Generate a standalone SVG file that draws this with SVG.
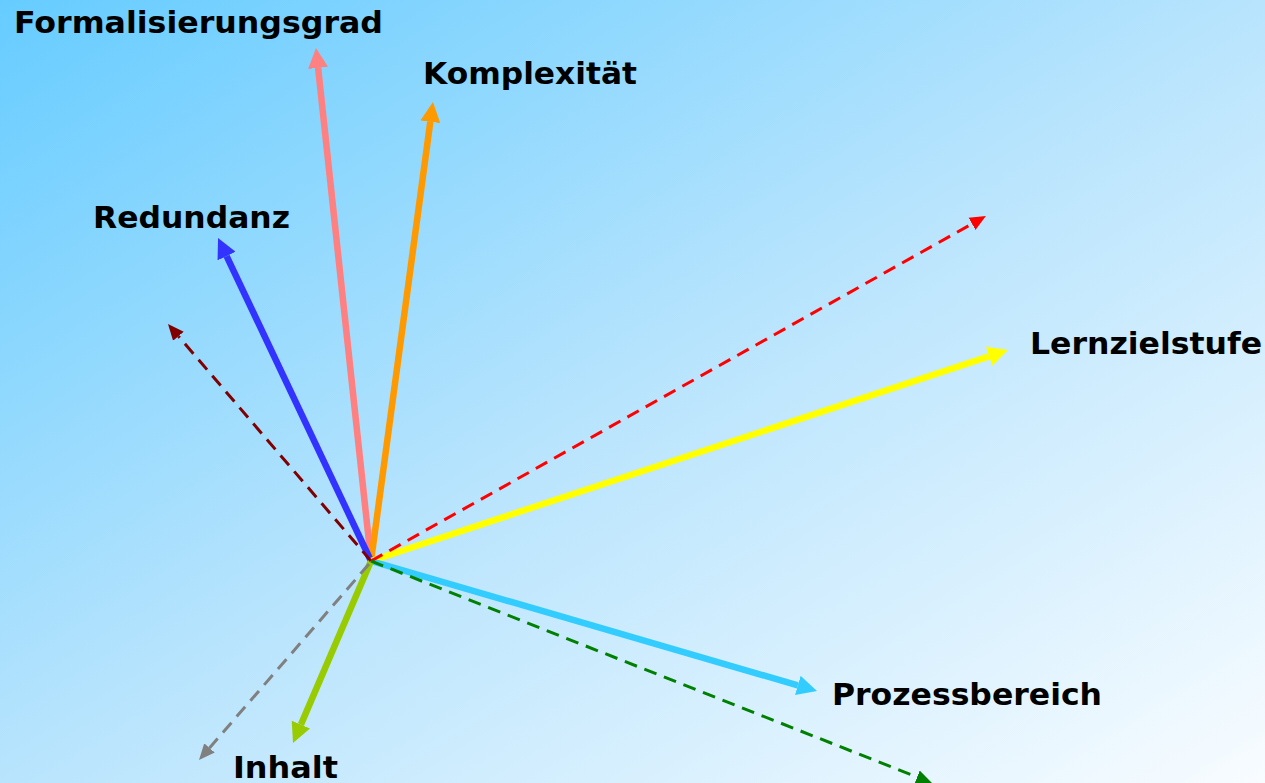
<svg xmlns="http://www.w3.org/2000/svg" width="1265" height="783" viewBox="0 0 1265 783">
<defs>
<linearGradient id="bg" x1="0" y1="0" x2="1" y2="1">
<stop offset="0" stop-color="#66CCFF"/>
<stop offset="0.5" stop-color="#B8E4FD"/>
<stop offset="1" stop-color="#F8FCFF"/>
</linearGradient>
<marker id="mPink" viewBox="0 -10 20 20" markerUnits="userSpaceOnUse" markerWidth="20" markerHeight="20" refX="0" refY="0" orient="auto"><path d="M0,-10 L20,0 L0,10 z" fill="#FF8080"/></marker>
<marker id="mOrange" viewBox="0 -10 20 20" markerUnits="userSpaceOnUse" markerWidth="20" markerHeight="20" refX="0" refY="0" orient="auto"><path d="M0,-10 L20,0 L0,10 z" fill="#FF9900"/></marker>
<marker id="mBlue" viewBox="0 -10 20 20" markerUnits="userSpaceOnUse" markerWidth="20" markerHeight="20" refX="0" refY="0" orient="auto"><path d="M0,-10 L20,0 L0,10 z" fill="#3333FF"/></marker>
<marker id="mYellow" viewBox="0 -10 20 20" markerUnits="userSpaceOnUse" markerWidth="20" markerHeight="20" refX="0" refY="0" orient="auto"><path d="M0,-10 L20,0 L0,10 z" fill="#FFFF00"/></marker>
<marker id="mCyan" viewBox="0 -10 20 20" markerUnits="userSpaceOnUse" markerWidth="20" markerHeight="20" refX="0" refY="0" orient="auto"><path d="M0,-10 L20,0 L0,10 z" fill="#33CCFF"/></marker>
<marker id="mLime" viewBox="0 -10 20 20" markerUnits="userSpaceOnUse" markerWidth="20" markerHeight="20" refX="0" refY="0" orient="auto"><path d="M0,-10 L20,0 L0,10 z" fill="#99CC00"/></marker>
<marker id="dMaroon" viewBox="0 -8 16 16" markerUnits="userSpaceOnUse" markerWidth="16" markerHeight="16" refX="0" refY="0" orient="auto"><path d="M0,-7 L16,0 L0,7 z" fill="#800000"/></marker>
<marker id="dRed" viewBox="0 -8 16 16" markerUnits="userSpaceOnUse" markerWidth="16" markerHeight="16" refX="0" refY="0" orient="auto"><path d="M0,-7 L16,0 L0,7 z" fill="#FF0000"/></marker>
<marker id="dGray" viewBox="0 -8 16 16" markerUnits="userSpaceOnUse" markerWidth="16" markerHeight="16" refX="0" refY="0" orient="auto"><path d="M0,-7 L16,0 L0,7 z" fill="#808080"/></marker>
<marker id="dGreen" viewBox="0 -8 16 16" markerUnits="userSpaceOnUse" markerWidth="16" markerHeight="16" refX="0" refY="0" orient="auto"><path d="M0,-7 L16,0 L0,7 z" fill="#008000"/></marker>
</defs>
<style>
.lbl{font-family:"DejaVu Sans","Liberation Sans",sans-serif;font-weight:bold;font-size:31px;fill:#000}
.solid{fill:none;stroke-width:6.5;stroke-linecap:butt}
.dash{fill:none;stroke-width:3;stroke-dasharray:13 8}
</style>
<rect x="0" y="0" width="1265" height="783" fill="url(#bg)"/>
<g id="connectors">
<path class="solid" d="M371,561 L318.1,67.9" stroke="#FF8080" marker-end="url(#mPink)"/>
<path class="solid" d="M371,561 L430.3,121.8" stroke="#FF9900" marker-end="url(#mOrange)"/>
<path class="solid" d="M371,561 L226.6,256.1" stroke="#3333FF" marker-end="url(#mBlue)"/>
<path class="solid" d="M371,561 L989,356.3" stroke="#FFFF00" marker-end="url(#mYellow)"/>
<path class="solid" d="M371,561 L797.8,685.4" stroke="#33CCFF" marker-end="url(#mCyan)"/>
<path class="solid" d="M371,561 L300.9,724.6" stroke="#99CC00" marker-end="url(#mLime)"/>
<path class="dash" d="M371,561 L178.4,336.2" stroke="#800000" marker-end="url(#dMaroon)"/>
<path class="dash" d="M371,561 L972,223.8" stroke="#FF0000" marker-end="url(#dRed)"/>
<path class="dash" d="M369,564 L209.5,747.9" stroke="#808080" marker-end="url(#dGray)"/>
<path class="dash" d="M371,561 L917.1,777.1" stroke="#008000" marker-end="url(#dGreen)"/>
</g>
<g id="formalisierungsgrad"><text class="lbl" x="14" y="33" textLength="369" lengthAdjust="spacingAndGlyphs">Formalisierungsgrad</text></g>
<g id="komplexitaet"><text class="lbl" x="423" y="84" textLength="214" lengthAdjust="spacingAndGlyphs">Komplexität</text></g>
<g id="redundanz"><text class="lbl" x="93" y="228" textLength="197" lengthAdjust="spacingAndGlyphs">Redundanz</text></g>
<g id="lernzielstufe"><text class="lbl" x="1030" y="354" textLength="232" lengthAdjust="spacingAndGlyphs">Lernzielstufe</text></g>
<g id="prozessbereich"><text class="lbl" x="832" y="705" textLength="270" lengthAdjust="spacingAndGlyphs">Prozessbereich</text></g>
<g id="inhalt"><text class="lbl" x="233" y="778" textLength="105" lengthAdjust="spacingAndGlyphs">Inhalt</text></g>
</svg>
